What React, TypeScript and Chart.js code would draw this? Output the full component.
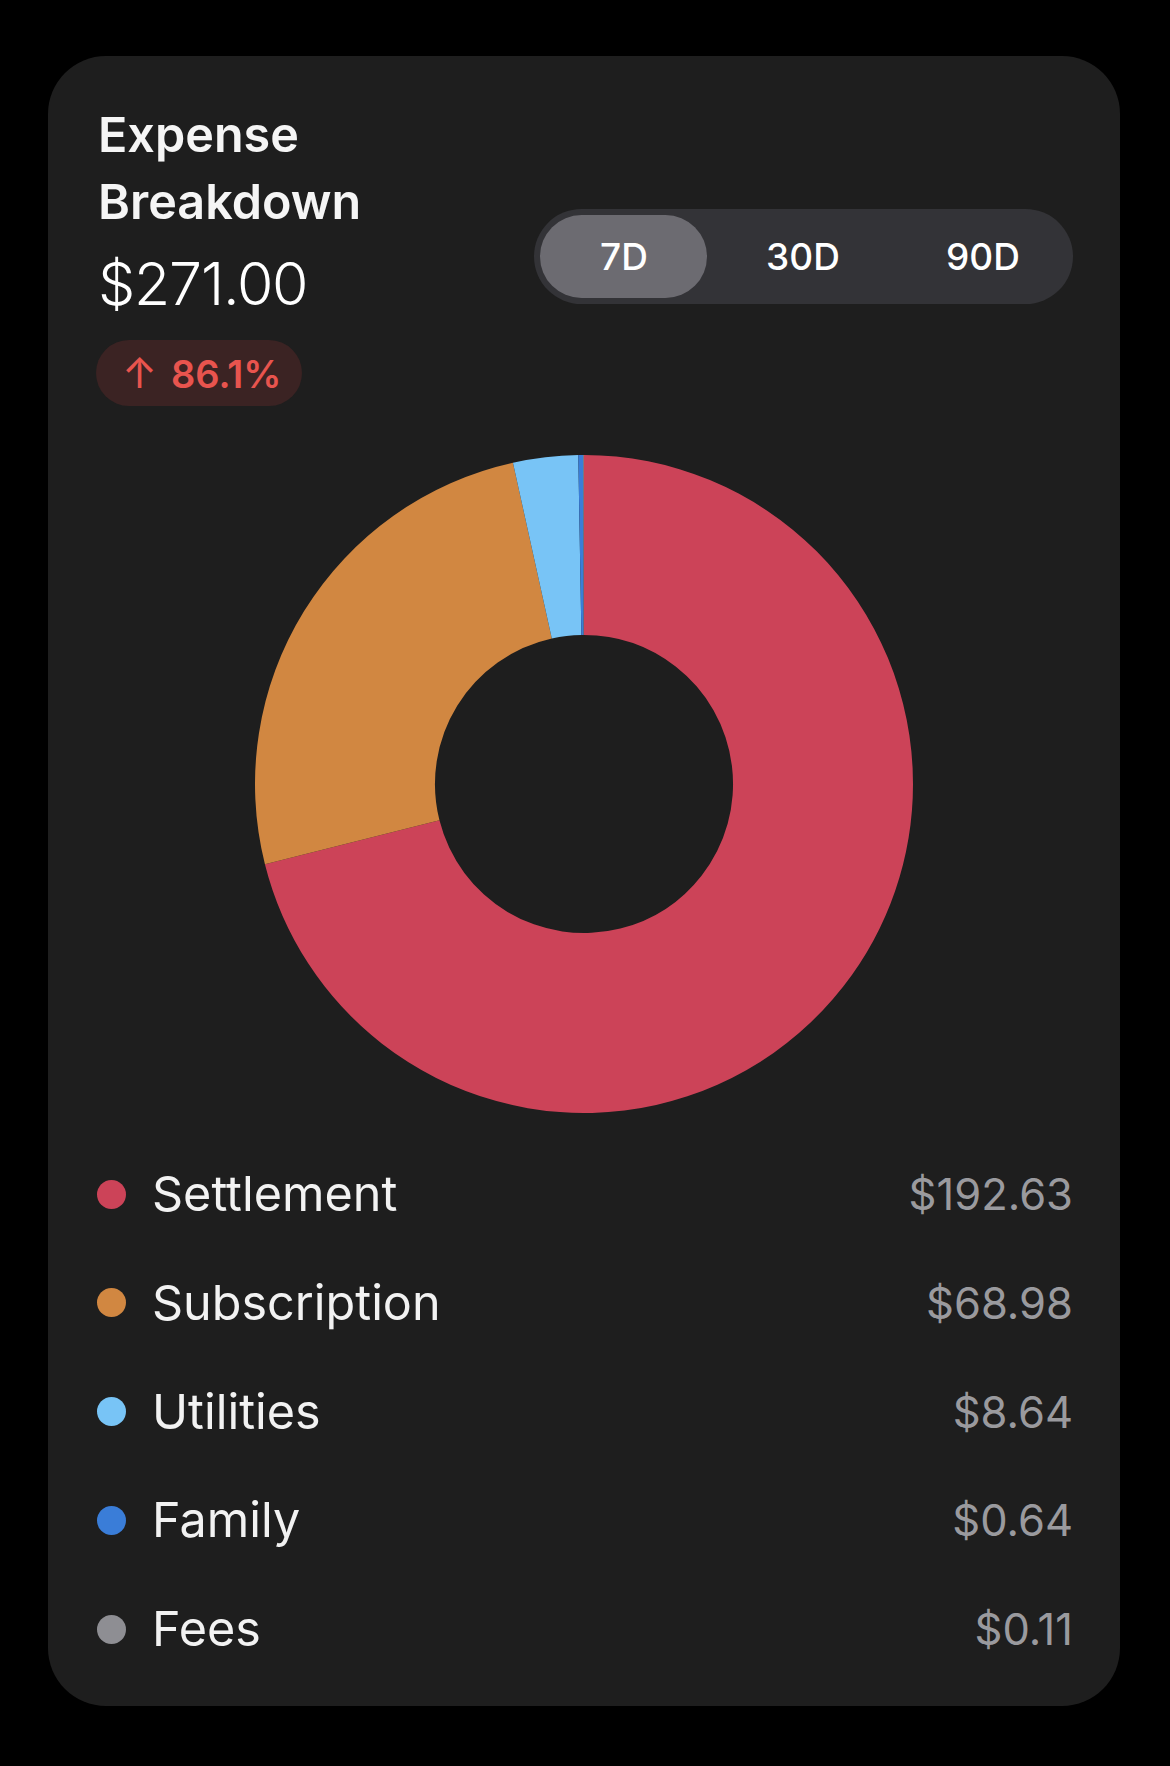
import React, { useEffect, useRef } from "react";
import { Chart, registerables } from "chart.js";

Chart.register(...registerables);

// ---- data ----
const titleLines = ["Expense", "Breakdown"];
const categories = ["Settlement", "Subscription", "Utilities", "Family", "Fees"];
const amounts = [192.63, 68.98, 8.64, 0.64, 0.11];
const sliceColors = ["#CC4358", "#D18741", "#78C4F6", "#3A7DD8", "#8E8E93"];
const periods = ["7D", "30D", "90D"];
const selectedPeriod = "7D";
const changePct = "86.1%";

const FONT = "Inter, 'Noto Sans', 'DejaVu Sans', sans-serif";

const money = (v: number) => "$" + v.toFixed(2);

function Text(props: {
  x?: number;
  right?: number;
  cx?: number;
  cy: number;
  size: number;
  weight?: number;
  color: string;
  lh?: number;
  extra?: React.CSSProperties;
  children: React.ReactNode;
}) {
  const lh = props.lh ?? Math.round(props.size * 1.25);
  const style: React.CSSProperties = {
    position: "absolute",
    top: props.cy - lh / 2,
    height: lh,
    lineHeight: lh + "px",
    fontSize: props.size,
    fontWeight: props.weight ?? 400,
    color: props.color,
    fontFamily: FONT,
    whiteSpace: "nowrap",
    ...(props.extra || {}),
  };
  if (props.x !== undefined) style.left = props.x;
  if (props.right !== undefined) {
    style.right = 1170 - props.right;
    style.textAlign = "right";
  }
  if (props.cx !== undefined) {
    style.left = props.cx - 150;
    style.width = 300;
    style.textAlign = "center";
  }
  return <div style={style}>{props.children}</div>;
}

function Donut() {
  const ref = useRef<HTMLCanvasElement | null>(null);
  useEffect(() => {
    if (!ref.current) return;
    const chart = new Chart(ref.current, {
      type: "doughnut",
      data: {
        labels: categories,
        datasets: [
          {
            data: amounts,
            backgroundColor: sliceColors,
            borderWidth: 0,
            hoverBorderWidth: 0,
            hoverOffset: 0,
            offset: 0,
          },
        ],
      },
      options: {
        responsive: false,
        maintainAspectRatio: false,
        animation: false,
        cutout: "45.3%",
        events: [],
        layout: { padding: 0 },
        plugins: {
          legend: { display: false },
          tooltip: { enabled: false },
        },
      },
    });
    return () => chart.destroy();
  }, []);
  return (
    <canvas
      ref={ref}
      width={658}
      height={658}
      style={{ position: "absolute", left: 255, top: 455, width: 658, height: 658 }}
    />
  );
}

export default function App() {
  const total = amounts.reduce((a, b) => a + b, 0);
  const periodCenters = [624, 803, 983];
  const rowY = (i: number) => 1194 + i * 108.8;
  return (
    <div
      style={{
        position: "absolute",
        left: 0,
        top: 0,
        width: 1170,
        height: 1766,
        background: "#000000",
        overflow: "hidden",
        fontFamily: FONT,
      }}
    >
      <div
        style={{
          position: "absolute",
          left: 48,
          top: 56,
          width: 1072,
          height: 1650,
          background: "#1E1E1E",
          borderRadius: 58,
        }}
      />
      {titleLines.map((t, i) => (
        <Text key={t} x={98} cy={135 + i * 67} size={48.5} weight={600} color="#F5F5F5" lh={60}>
          {t}
        </Text>
      ))}
      <Text x={98} cy={284} size={59} weight={300} color="#FFFFFF" lh={70} extra={{ letterSpacing: -1.2 }}>
        {money(total)}
      </Text>
      <div
        style={{
          position: "absolute",
          left: 96,
          top: 340,
          width: 206,
          height: 66,
          borderRadius: 33,
          background: "#3B2323",
        }}
      />
      <Text x={122} cy={373} size={38} weight={600} color="#E8544E" lh={46}>
        <span style={{ fontWeight: 400, fontSize: 42, marginRight: 14 }}>{"\u2191"}</span>
        {changePct}
      </Text>

      <div
        style={{
          position: "absolute",
          left: 534,
          top: 209,
          width: 539,
          height: 95,
          borderRadius: 47.5,
          background: "#333337",
        }}
      />
      <div
        style={{
          position: "absolute",
          left: 540,
          top: 215,
          width: 167,
          height: 83,
          borderRadius: 41.5,
          background: "#6C6B71",
        }}
      />
      {periods.map((p, i) => (
        <Text key={p} cx={periodCenters[i]} cy={257} size={37} weight={p === selectedPeriod ? 500 : 500} color="#FFFFFF" lh={44}>
          {p}
        </Text>
      ))}

      <Donut />

      {categories.map((c, i) => (
        <React.Fragment key={c}>
          <div
            style={{
              position: "absolute",
              left: 97,
              top: rowY(i) - 14.5,
              width: 29,
              height: 29,
              borderRadius: "50%",
              background: sliceColors[i],
            }}
          />
          <Text x={152} cy={rowY(i)} size={48.5} weight={400} color="#F2F2F2" lh={58}>
            {c}
          </Text>
          <Text right={1073} cy={rowY(i)} size={43.5} weight={400} color="#9A9A9E" lh={52}>
            {money(amounts[i])}
          </Text>
        </React.Fragment>
      ))}
    </div>
  );
}
